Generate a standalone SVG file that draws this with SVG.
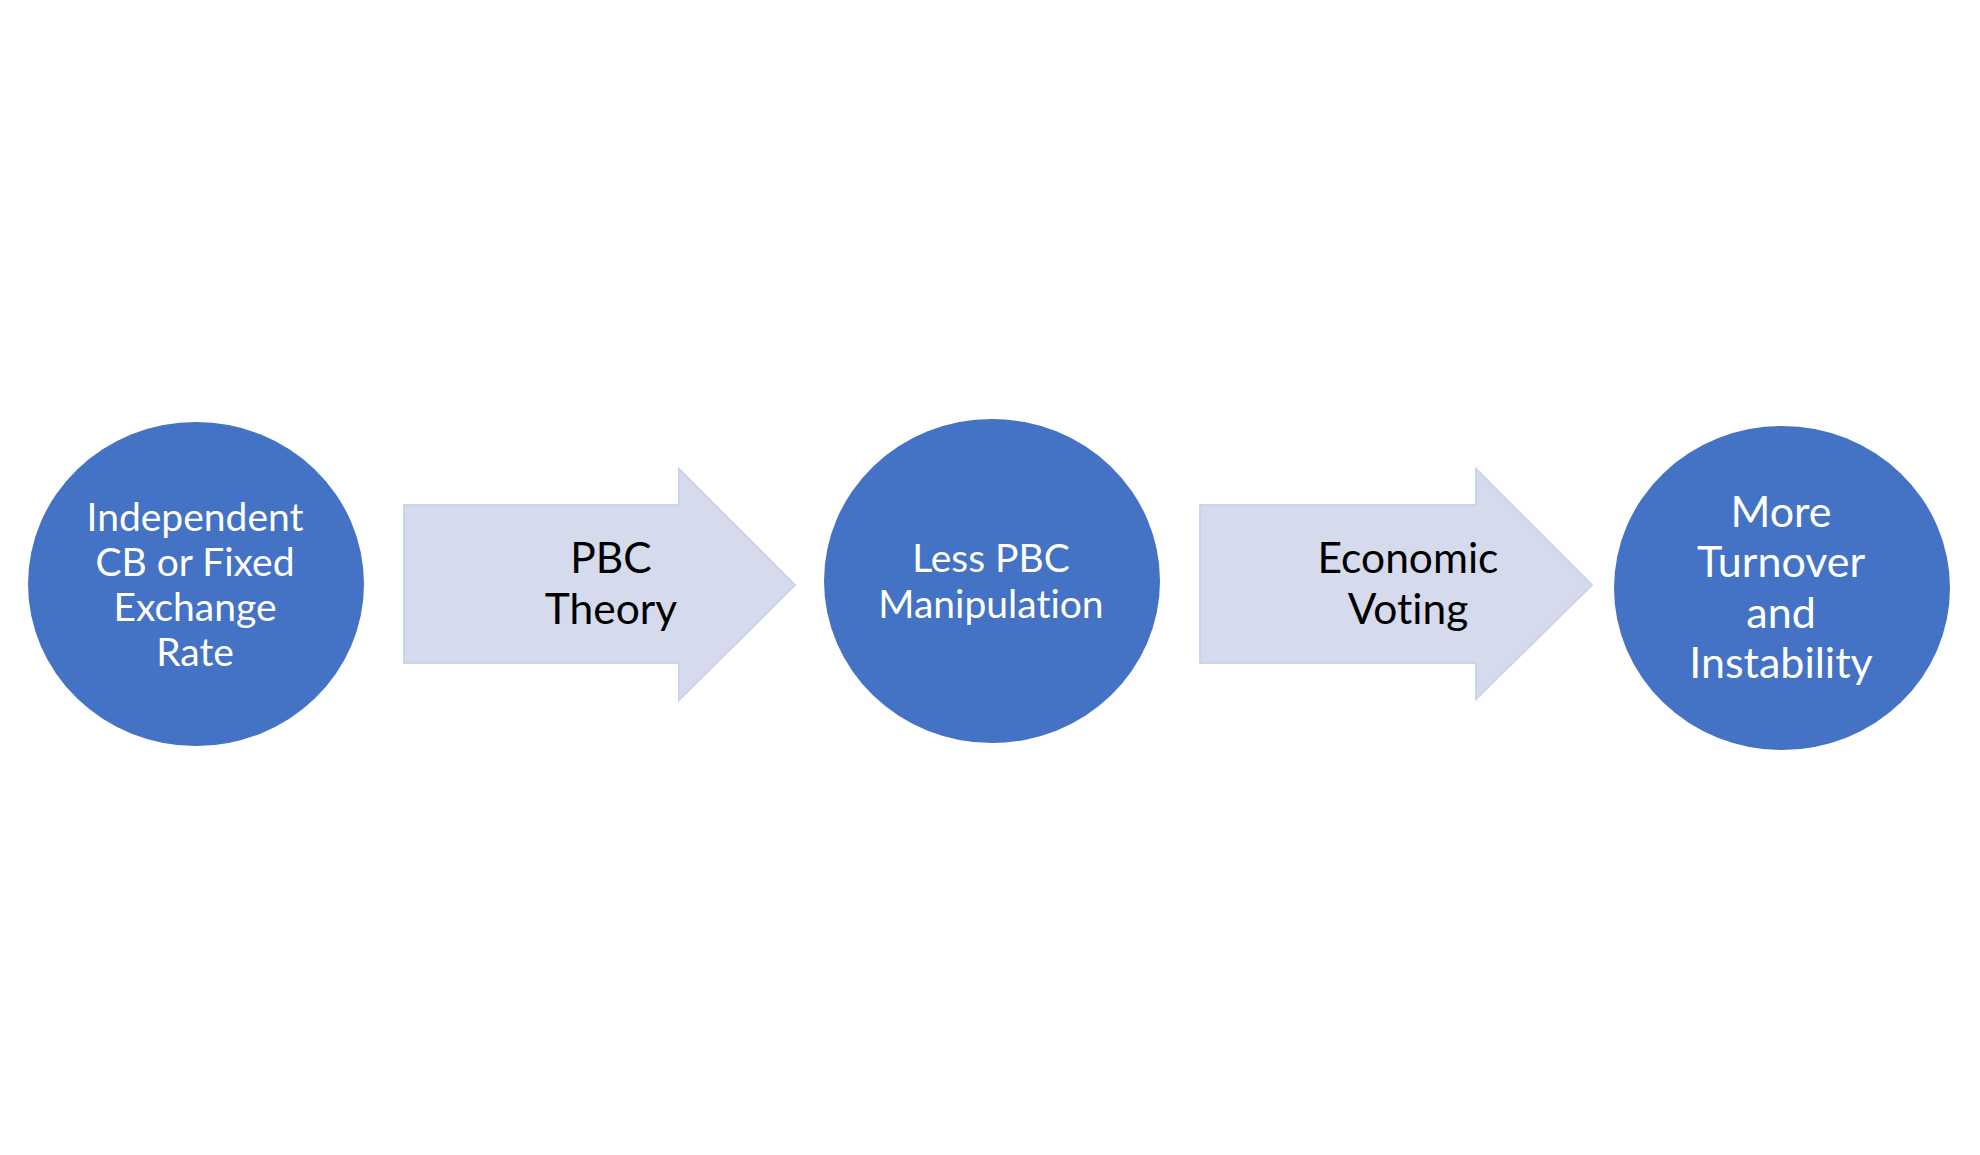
<svg xmlns="http://www.w3.org/2000/svg" width="1980" height="1155" viewBox="0 0 1980 1155">
<style>
.node{fill:#4472C4;}
.arrow{fill:#D5DAEC;stroke:#CDD3EA;stroke-width:2;}
.wt{fill:#FFFFFF;font-family:Lato,"Open Sans","Liberation Sans",sans-serif;text-anchor:middle;font-variant-ligatures:none;}
.bt{fill:#000000;font-family:Lato,"Open Sans","Liberation Sans",sans-serif;text-anchor:middle;font-size:42.5px;font-variant-ligatures:none;}
</style>
<rect width="1980" height="1155" fill="#FFFFFF"/>
<g id="connectors">
<g id="arrow-pbc-theory">
<polygon class="arrow" points="404,505 679,505 679,469 795,585 679,700 679,663 404,663"/>
<text class="bt"><tspan x="611" y="573">PBC</tspan><tspan x="611" y="624">Theory</tspan></text>
</g>
<g id="arrow-economic-voting">
<polygon class="arrow" points="1200,505 1476,505 1476,469 1592,585 1476,699 1476,663 1200,663"/>
<text class="bt"><tspan x="1408" y="573">Economic</tspan><tspan x="1408" y="624">Voting</tspan></text>
</g>
</g>
<g id="node-independent-cb">
<ellipse class="node" cx="196" cy="584" rx="168" ry="162"/>
<text class="wt" font-size="39"><tspan x="195" y="530.5">Independent</tspan><tspan x="195" y="575.5">CB or Fixed</tspan><tspan x="195" y="620.5">Exchange</tspan><tspan x="195" y="665.5">Rate</tspan></text>
</g>
<g id="node-less-pbc">
<ellipse class="node" cx="992" cy="581" rx="168" ry="162"/>
<text class="wt" font-size="39"><tspan x="991" y="571.5">Less PBC</tspan><tspan x="991" y="617.5">Manipulation</tspan></text>
</g>
<g id="node-more-turnover">
<ellipse class="node" cx="1782" cy="588" rx="168" ry="162"/>
<text class="wt" font-size="43"><tspan x="1781" y="526.5">More</tspan><tspan x="1781" y="576.5">Turnover</tspan><tspan x="1781" y="627.5">and</tspan><tspan x="1781" y="677.5">Instability</tspan></text>
</g>
</svg>
